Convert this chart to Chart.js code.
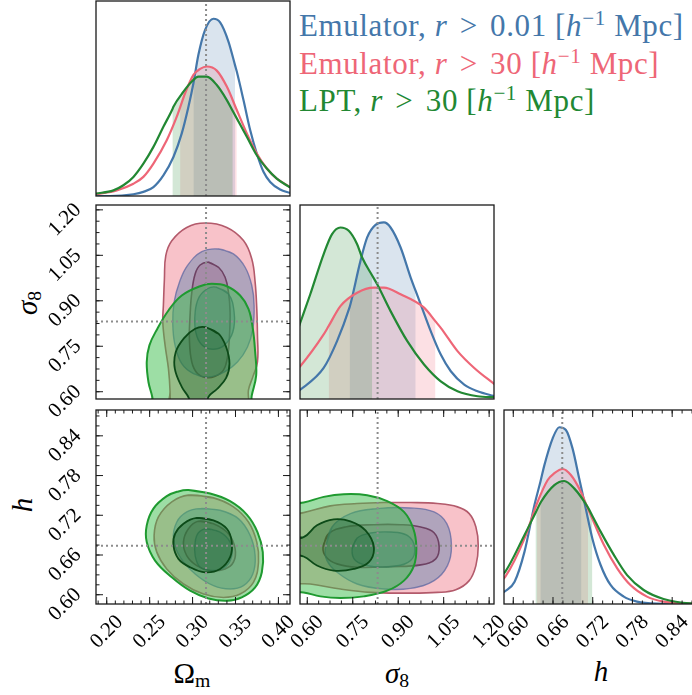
<!DOCTYPE html>
<html>
<head>
<meta charset="utf-8">
<title>Corner plot</title>
<script src="https://cdn.jsdelivr.net/npm/chart.js@4.4.1/dist/chart.umd.min.js"></script>
<style>
  html, body { margin: 0; padding: 0; background: #fff; }
  body { position: relative; width: 692px; height: 695px; overflow: hidden; font-family: "Liberation Serif", "DejaVu Serif", serif; color: #000; }
  canvas { position: absolute; }
  .lbl { position: absolute; white-space: nowrap; transform: translate(-50%, -50%); line-height: 1; font-size: 29px; }
  .lbl sub { font-style: normal; font-size: 0.68em; vertical-align: -0.25em; line-height: 0; }
  #legend { position: absolute; left: 299px; top: 7px; font-size: 31px; letter-spacing: 0.6px; line-height: 37.5px; white-space: nowrap; }
  #legend sup { font-size: 0.68em; vertical-align: 0.5em; line-height: 0; }
  #legend .op { margin: 0 4px; }
</style>
</head>
<body>
<div id="legend">
  <div style="color:#4477AA">Emulator, <i>r</i> <span class="op">&gt;</span> 0.01 [<i>h</i><sup>−1</sup> Mpc]</div>
  <div style="color:#EE6677">Emulator, <i>r</i> <span class="op">&gt;</span> 30 [<i>h</i><sup>−1</sup> Mpc]</div>
  <div style="color:#228833">LPT, <i>r</i> <span class="op">&gt;</span> 30 [<i>h</i><sup>−1</sup> Mpc]</div>
</div>
<div class="lbl" style="left:192px;top:673px">Ω<sub>m</sub></div>
<div class="lbl" style="left:397px;top:673px"><i>σ</i><sub>8</sub></div>
<div class="lbl" style="left:601px;top:671px"><i>h</i></div>
<div class="lbl" style="left:27px;top:303px;transform:translate(-50%,-50%) rotate(-90deg)"><i>σ</i><sub>8</sub></div>
<div class="lbl" style="left:22px;top:505px;transform:translate(-50%,-50%) rotate(-90deg)"><i>h</i></div>
<script>
// axis ranges, truth values, ticks
const omRange = [0.1875, 0.4135];
const s8Range = [0.576, 1.216];
const hRange = [0.586, 0.879];
const relRange = [0, 1];
const omTruth = 0.3157;
const s8Truth = 0.832;
const hTruth = 0.674;
const omTicks = [0.2, 0.25, 0.3, 0.35, 0.4];
const s8Ticks = [0.6, 0.75, 0.9, 1.05, 1.2];
const hTicks = [0.6, 0.66, 0.72, 0.78, 0.84];
const omMinor = 0.01;
const s8Minor = 0.0375;
const hMinor = 0.015;

// 1D marginals: [value, relative density]
const omBlue = [[0.1872,0],[0.2039,0],[0.2311,0.009],[0.2427,0.021],[0.2544,0.046],[0.266,0.106],[0.2777,0.2],[0.2874,0.321],[0.2952,0.458],[0.301,0.578],[0.3068,0.724],[0.3146,0.852],[0.3243,0.909],[0.3321,0.89],[0.3418,0.792],[0.3495,0.67],[0.3515,0.638],[0.3593,0.492],[0.3671,0.338],[0.3748,0.218],[0.3826,0.124],[0.3904,0.072],[0.402,0.033],[0.4137,0.015]];
const omPink = [[0.1872,0.009],[0.2117,0.029],[0.2311,0.063],[0.2427,0.098],[0.2544,0.166],[0.2699,0.286],[0.2816,0.407],[0.2855,0.455],[0.2913,0.527],[0.301,0.621],[0.3088,0.652],[0.3166,0.664],[0.3282,0.643],[0.3399,0.561],[0.3515,0.441],[0.3632,0.321],[0.3748,0.218],[0.3865,0.141],[0.3981,0.089],[0.4137,0.046]];
const omGreen = [[0.1872,0.012],[0.2078,0.029],[0.2194,0.055],[0.2311,0.098],[0.2427,0.166],[0.2544,0.252],[0.266,0.355],[0.2765,0.445],[0.2777,0.458],[0.2894,0.535],[0.2991,0.587],[0.3068,0.612],[0.3166,0.612],[0.3282,0.569],[0.3399,0.492],[0.3468,0.436],[0.3515,0.398],[0.3632,0.304],[0.3748,0.209],[0.3865,0.141],[0.3981,0.089],[0.4137,0.043]];
const s8Blue = [[0.565,0.035],[0.5768,0.048],[0.6541,0.16],[0.6982,0.298],[0.74,0.475],[0.7424,0.488],[0.7755,0.712],[0.7976,0.833],[0.8252,0.898],[0.8528,0.91],[0.8748,0.884],[0.9079,0.781],[0.9411,0.626],[0.9576,0.557],[0.9742,0.488],[1.0073,0.35],[1.0404,0.229],[1.0735,0.143],[1.1177,0.074],[1.1618,0.04],[1.2192,0.014]];
const s8Pink = [[0.565,0.15],[0.5768,0.169],[0.6541,0.333],[0.6705,0.376],[0.7093,0.479],[0.7645,0.548],[0.8196,0.574],[0.8528,0.574],[0.9079,0.54],[0.9852,0.471],[1.023,0.4],[1.0404,0.367],[1.0956,0.247],[1.1508,0.16],[1.2192,0.074]];
const s8Green = [[0.565,0.34],[0.5768,0.393],[0.6099,0.54],[0.6541,0.747],[0.6817,0.85],[0.7093,0.884],[0.7369,0.867],[0.7645,0.798],[0.781,0.729],[0.814,0.637],[0.8307,0.591],[0.8748,0.453],[0.93,0.298],[0.9852,0.178],[1.0404,0.091],[1.0956,0.04],[1.1618,0.014],[1.2192,0.009]];
const hBlue = [[0.58,0.05],[0.588,0.067],[0.602,0.115],[0.617,0.27],[0.632,0.51],[0.641,0.63],[0.647,0.716],[0.6595,0.854],[0.6695,0.911],[0.6795,0.897],[0.6895,0.802],[0.6995,0.648],[0.703,0.594],[0.7094,0.493],[0.7194,0.338],[0.7319,0.201],[0.7469,0.098],[0.7669,0.038],[0.7869,0.012],[0.8169,0.002],[0.88,0]];
const hPink = [[0.58,0.115],[0.588,0.141],[0.617,0.338],[0.636,0.52],[0.652,0.639],[0.662,0.674],[0.6745,0.696],[0.687,0.665],[0.702,0.579],[0.713,0.49],[0.717,0.459],[0.737,0.304],[0.757,0.184],[0.7769,0.098],[0.8019,0.038],[0.8269,0.012],[0.8669,0.002],[0.88,0]];
const hGreen = [[0.58,0.14],[0.588,0.167],[0.617,0.356],[0.6335,0.469],[0.642,0.527],[0.662,0.613],[0.677,0.634],[0.692,0.596],[0.712,0.502],[0.7195,0.454],[0.7319,0.373],[0.7519,0.253],[0.7719,0.149],[0.7969,0.072],[0.8269,0.026],[0.8669,0.003],[0.88,0.002]];

// 68% intervals of the marginals
const omBlueBand = [0.301, 0.3495];
const omPinkBand = [0.2855, 0.3515];
const omGreenBand = [0.2765, 0.3468];
const s8BlueBand = [0.74, 0.9576];
const s8PinkBand = [0.6705, 1.023];
const s8GreenBand = [0.565, 0.814];
const hBlueBand = [0.641, 0.703];
const hPinkBand = [0.636, 0.713];
const hGreenBand = [0.6335, 0.7195];

// 2D contours (68% inner, 95% outer) as traced outlines
const omS8PinkOuter = [[0.2738,0.53],[0.2738,0.6],[0.2719,0.676],[0.268,0.753],[0.2653,0.83],[0.266,0.884],[0.2672,0.972],[0.2688,1.049],[0.2758,1.098],[0.2932,1.142],[0.3146,1.1565],[0.3399,1.142],[0.3593,1.0985],[0.369,1.038],[0.3729,0.961],[0.3748,0.874],[0.3756,0.786],[0.3756,0.698],[0.3702,0.649],[0.3651,0.605],[0.3632,0.53],[0.318,0.51]];
const omS8PinkInner = [[0.3185,1.027],[0.3302,1.0106],[0.3379,0.9778],[0.3418,0.9284],[0.3437,0.8626],[0.343,0.786],[0.341,0.72],[0.336,0.671],[0.3263,0.651],[0.3158,0.6466],[0.3057,0.66],[0.2991,0.698],[0.2963,0.775],[0.2971,0.852],[0.2991,0.928],[0.303,0.9887],[0.3088,1.018]];
const omS8BlueOuter = [[0.3302,1.071],[0.3476,1.0546],[0.3612,1.0107],[0.369,0.9504],[0.3717,0.8846],[0.3702,0.8078],[0.364,0.7475],[0.3523,0.6982],[0.3368,0.665],[0.3185,0.6488],[0.301,0.66],[0.2874,0.6926],[0.2796,0.753],[0.2769,0.8245],[0.2785,0.8955],[0.2847,0.9613],[0.294,1.016],[0.3107,1.062]];
const omS8BlueInner = [[0.3274,0.945],[0.3418,0.923],[0.3484,0.8625],[0.3469,0.7968],[0.3368,0.753],[0.3235,0.74],[0.3107,0.755],[0.3037,0.797],[0.303,0.8625],[0.3076,0.912],[0.3173,0.9397]];
const omS8GreenOuter = [[0.255,0.53],[0.253,0.583],[0.2486,0.632],[0.2466,0.698],[0.2497,0.753],[0.259,0.808],[0.2719,0.868],[0.2874,0.9174],[0.3088,0.948],[0.3224,0.9558],[0.3399,0.948],[0.3554,0.9174],[0.3651,0.8735],[0.3702,0.8078],[0.3729,0.731],[0.3741,0.654],[0.369,0.5885],[0.3651,0.53],[0.31,0.51]];
const omS8GreenInner = [[0.3146,0.8133],[0.3302,0.7914],[0.3391,0.7475],[0.343,0.6926],[0.3391,0.6455],[0.3282,0.6082],[0.3185,0.583],[0.3146,0.534],[0.2991,0.534],[0.296,0.5775],[0.2874,0.616],[0.2793,0.676],[0.2804,0.731],[0.2901,0.777],[0.303,0.8078]];

const omHPinkOuter = [[0.2952,0.7504],[0.3243,0.7463],[0.3476,0.7327],[0.3651,0.7099],[0.3748,0.6795],[0.3768,0.6491],[0.3709,0.6187],[0.3554,0.601],[0.336,0.5959],[0.3127,0.601],[0.2894,0.6162],[0.2699,0.639],[0.2583,0.6643],[0.2552,0.6896],[0.2602,0.7175],[0.2758,0.7403]];
const omHPinkInner = [[0.3068,0.7109],[0.3243,0.7073],[0.3418,0.6922],[0.3496,0.6694],[0.3476,0.6491],[0.3379,0.639],[0.3204,0.6365],[0.3049,0.644],[0.2932,0.6592],[0.2894,0.6795],[0.2952,0.6997]];
const omHBlueOuter = [[0.3088,0.7301],[0.3321,0.7276],[0.3534,0.7149],[0.3671,0.6896],[0.3729,0.6592],[0.3702,0.6314],[0.3593,0.6137],[0.3437,0.6086],[0.3243,0.6137],[0.303,0.6314],[0.2855,0.6567],[0.2777,0.6846],[0.2816,0.7099],[0.2932,0.7251]];
const omHBlueInner = [[0.3165,0.6997],[0.332,0.6947],[0.3437,0.6795],[0.3457,0.6592],[0.3379,0.6415],[0.3243,0.6365],[0.3088,0.6415],[0.303,0.6592],[0.303,0.6795],[0.3068,0.6937]];
const omHGreenOuter = [[0.2952,0.758],[0.3204,0.7529],[0.3437,0.7413],[0.3632,0.721],[0.3756,0.6947],[0.3818,0.6643],[0.3807,0.6339],[0.3729,0.6111],[0.3573,0.596],[0.3399,0.5909],[0.3185,0.5944],[0.2971,0.6061],[0.2758,0.6263],[0.2563,0.6516],[0.2466,0.6795],[0.2466,0.7048],[0.2544,0.7301],[0.2699,0.7489],[0.2835,0.756]];
const omHGreenInner = [[0.3049,0.716],[0.3243,0.7124],[0.3399,0.6997],[0.3457,0.6795],[0.3437,0.6567],[0.3321,0.639],[0.3146,0.6339],[0.2971,0.6415],[0.2835,0.6542],[0.2777,0.6744],[0.2797,0.6922],[0.2894,0.7073]];

const s8HPinkOuter = [[0.5106,0.7175],[0.5879,0.724],[0.6762,0.7342],[0.7645,0.7377],[0.8528,0.7392],[0.941,0.7392],[1.0294,0.7377],[1.0956,0.7327],[1.1342,0.7225],[1.1563,0.7023],[1.164,0.6744],[1.1563,0.644],[1.1342,0.6213],[1.09,0.6076],[1.0294,0.6035],[0.919,0.6025],[0.8086,0.6035],[0.7093,0.6086],[0.6099,0.6162],[0.5106,0.6213],[0.48,0.67]];
const s8HPinkInner = [[0.6519,0.6719],[0.6706,0.6922],[0.7258,0.7023],[0.8196,0.7058],[0.9079,0.7058],[0.9742,0.7023],[1.0183,0.6937],[1.0349,0.6734],[1.0238,0.6542],[0.9742,0.6451],[0.8748,0.6425],[0.7645,0.6415],[0.6982,0.6466],[0.6629,0.6567]];
const s8HBlueOuter = [[0.6596,0.6694],[0.6817,0.7023],[0.7424,0.7225],[0.8307,0.7301],[0.941,0.7311],[1.0183,0.725],[1.0603,0.7073],[1.0757,0.6744],[1.0625,0.644],[1.0183,0.6213],[0.941,0.6096],[0.8528,0.6086],[0.7645,0.6162],[0.6982,0.6339],[0.6651,0.6516]];
const s8HBlueInner = [[0.7479,0.6694],[0.7645,0.6856],[0.8086,0.6932],[0.8748,0.6947],[0.93,0.6896],[0.9543,0.6719],[0.941,0.6516],[0.8859,0.643],[0.8086,0.643],[0.7589,0.6516]];
const s8HGreenOuter = [[0.5106,0.7352],[0.5879,0.7392],[0.6541,0.7478],[0.7203,0.7519],[0.7976,0.7504],[0.8638,0.7413],[0.919,0.7251],[0.9499,0.6997],[0.9598,0.6719],[0.9521,0.644],[0.919,0.6213],[0.8638,0.6061],[0.7865,0.5975],[0.7093,0.595],[0.643,0.5975],[0.5879,0.6035],[0.5106,0.6061],[0.48,0.67]];
const s8HGreenInner = [[0.5106,0.682],[0.5879,0.6871],[0.632,0.7048],[0.6872,0.7139],[0.7424,0.7109],[0.792,0.6972],[0.8196,0.6719],[0.8031,0.6491],[0.7534,0.639],[0.6872,0.6365],[0.632,0.6441],[0.5879,0.6577],[0.5106,0.6643],[0.49,0.673]];

// colours
const blue = "#4477AA";
const pink = "#EE6677";
const green = "#228833";
const style = {
  pink: { outer: "rgba(238,102,119,0.4)", inner: "rgba(200,60,90,0.3)", outerEdge: "#b35a6b", innerEdge: "#8a1f35" },
  blue: { outer: "rgba(68,119,170,0.4)", inner: "rgba(45,85,140,0.3)", outerEdge: "rgba(90,100,160,0.7)", innerEdge: "rgba(50,70,110,0.7)" },
  green: { outer: "rgba(60,190,75,0.5)", inner: "rgba(20,85,35,0.35)", outerEdge: "#1f9a30", innerEdge: "#0c4a18" },
};

// layout
const PAD = 70;
const colX = [96, 300, 504];
const rowY = [1, 205, 410];
const rowH = [195, 194, 194];
const panelW = 194;

const xy = (pts) => pts.map((p) => ({ x: p[0], y: p[1] }));

function curve(pts, color, order) {
  return { data: xy(pts), showLine: true, borderColor: color, borderWidth: 2.2, fill: false,
    cubicInterpolationMode: "monotone", order };
}

function band(pts, lim, color, order) {
  const inside = pts.filter((p) => p[0] >= lim[0] - 1e-9 && p[0] <= lim[1] + 1e-9);
  return { data: xy(inside), showLine: true, borderColor: "transparent", borderWidth: 0,
    backgroundColor: color, fill: "origin", cubicInterpolationMode: "monotone", order, clip: 0 };
}

function contour(pts, fillColor, edge, width, order) {
  const loop = pts.concat([pts[0], pts[1]]);
  return { data: xy(loop), showLine: true, fill: "shape", backgroundColor: fillColor,
    borderColor: edge, borderWidth: width, tension: 0.4, order, clip: 0 };
}

function vline(v, yr) {
  return { data: [{ x: v, y: yr[0] }, { x: v, y: yr[1] }], showLine: true, borderColor: "#8c8c8c",
    borderWidth: 2, borderDash: [2, 3], fill: false, order: 0 };
}
function hline(v, xr) {
  return { data: [{ x: xr[0], y: v }, { x: xr[1], y: v }], showLine: true, borderColor: "#8c8c8c",
    borderWidth: 2, borderDash: [2, 3], fill: false, order: 0 };
}

function minorValues(range, step) {
  const out = [];
  for (let i = Math.ceil(range[0] / step - 1e-6); i * step <= range[1] + 1e-9; i++) out.push(i * step);
  return out;
}

// frame, inward ticks and rotated tick labels
function framePlugin(axes) {
  return {
    id: "frame",
    afterDraw(chart) {
      const { ctx, chartArea: a } = chart;
      const xs = chart.scales.x;
      const ys = chart.scales.y;
      const seg = (x1, y1, x2, y2) => { ctx.beginPath(); ctx.moveTo(x1, y1); ctx.lineTo(x2, y2); ctx.stroke(); };
      ctx.save();
      ctx.strokeStyle = "#1a1a1a";
      ctx.lineWidth = 1.3;
      ctx.strokeRect(a.left, a.top, a.right - a.left, a.bottom - a.top);
      ctx.lineWidth = 1;
      ctx.fillStyle = "#000";
      ctx.font = '21px "Liberation Serif", serif';
      ctx.textAlign = "center";
      ctx.textBaseline = "middle";
      if (axes.x) {
        minorValues(axes.x.range, axes.x.minor).forEach((v) => {
          const p = xs.getPixelForValue(v);
          seg(p, a.bottom, p, a.bottom - 3.5);
          seg(p, a.top, p, a.top + 3.5);
        });
        axes.x.ticks.forEach((v) => {
          const p = xs.getPixelForValue(v);
          seg(p, a.bottom, p, a.bottom - 7);
          seg(p, a.top, p, a.top + 7);
          ctx.save();
          ctx.translate(p, a.bottom + 28);
          ctx.rotate(-Math.PI / 4);
          ctx.fillText(v.toFixed(2), 0, 0);
          ctx.restore();
        });
      }
      if (axes.y) {
        minorValues(axes.y.range, axes.y.minor).forEach((v) => {
          const p = ys.getPixelForValue(v);
          seg(a.left, p, a.left + 3.5, p);
          seg(a.right, p, a.right - 3.5, p);
        });
        axes.y.ticks.forEach((v) => {
          const p = ys.getPixelForValue(v);
          seg(a.left, p, a.left + 7, p);
          seg(a.right, p, a.right - 7, p);
          ctx.save();
          ctx.translate(a.left - 31, p + 10);
          ctx.rotate(-Math.PI / 4);
          ctx.fillText(v.toFixed(2), 0, 0);
          ctx.restore();
        });
      }
      ctx.restore();
    },
  };
}

function panel(col, row, xr, yr, datasets, axes) {
  const canvas = document.createElement("canvas");
  canvas.width = panelW + 2 * PAD;
  canvas.height = rowH[row] + 2 * PAD;
  canvas.style.left = colX[col] - PAD + "px";
  canvas.style.top = rowY[row] - PAD + "px";
  document.body.appendChild(canvas);
  return new Chart(canvas.getContext("2d"), {
    type: "scatter",
    data: { datasets },
    options: {
      responsive: false,
      animation: false,
      devicePixelRatio: 1,
      events: [],
      layout: { padding: PAD },
      elements: { point: { radius: 0 }, line: { capBezierPoints: false } },
      plugins: { legend: { display: false }, tooltip: { enabled: false } },
      scales: {
        x: { type: "linear", min: xr[0], max: xr[1], display: false },
        y: { type: "linear", min: yr[0], max: yr[1], display: false },
      },
    },
    plugins: [framePlugin(axes)],
  });
}

function marginal(col, row, xr, curves, bands, truthV, axes) {
  const ds = [
    band(curves[0], bands[0], "rgba(68,119,170,0.2)", 12),
    band(curves[1], bands[1], "rgba(238,102,119,0.2)", 11),
    band(curves[2], bands[2], "rgba(34,136,51,0.2)", 10),
    curve(curves[0], blue, 5),
    curve(curves[1], pink, 4),
    curve(curves[2], green, 3),
    vline(truthV, relRange),
  ];
  return panel(col, row, xr, relRange, ds, axes);
}

function joint(col, row, xr, yr, c, tx, ty, axes) {
  const ds = [
    contour(c.pinkOuter, style.pink.outer, style.pink.outerEdge, 1.6, 30),
    contour(c.pinkInner, style.pink.inner, style.pink.innerEdge, 1.6, 29),
    contour(c.blueOuter, style.blue.outer, style.blue.outerEdge, 1.4, 28),
    contour(c.blueInner, style.blue.inner, style.blue.innerEdge, 1.4, 27),
    contour(c.greenOuter, style.green.outer, style.green.outerEdge, 2, 26),
    contour(c.greenInner, style.green.inner, style.green.innerEdge, 1.8, 25),
    vline(tx, yr),
    hline(ty, xr),
  ];
  return panel(col, row, xr, yr, ds, axes);
}

const omAxis = { ticks: omTicks, minor: omMinor, range: omRange };
const s8Axis = { ticks: s8Ticks, minor: s8Minor, range: s8Range };
const hAxis = { ticks: hTicks, minor: hMinor, range: hRange };

// diagonal
marginal(0, 0, omRange, [omBlue, omPink, omGreen], [omBlueBand, omPinkBand, omGreenBand], omTruth, {});
marginal(1, 1, s8Range, [s8Blue, s8Pink, s8Green], [s8BlueBand, s8PinkBand, s8GreenBand], s8Truth, {});
marginal(2, 2, hRange, [hBlue, hPink, hGreen], [hBlueBand, hPinkBand, hGreenBand], hTruth, { x: hAxis });

// off-diagonal
joint(0, 1, omRange, s8Range, {
  pinkOuter: omS8PinkOuter, pinkInner: omS8PinkInner, blueOuter: omS8BlueOuter,
  blueInner: omS8BlueInner, greenOuter: omS8GreenOuter, greenInner: omS8GreenInner,
}, omTruth, s8Truth, { y: s8Axis });
joint(0, 2, omRange, hRange, {
  pinkOuter: omHPinkOuter, pinkInner: omHPinkInner, blueOuter: omHBlueOuter,
  blueInner: omHBlueInner, greenOuter: omHGreenOuter, greenInner: omHGreenInner,
}, omTruth, hTruth, { x: omAxis, y: hAxis });
joint(1, 2, s8Range, hRange, {
  pinkOuter: s8HPinkOuter, pinkInner: s8HPinkInner, blueOuter: s8HBlueOuter,
  blueInner: s8HBlueInner, greenOuter: s8HGreenOuter, greenInner: s8HGreenInner,
}, s8Truth, hTruth, { x: s8Axis });
</script>
</body>
</html>
